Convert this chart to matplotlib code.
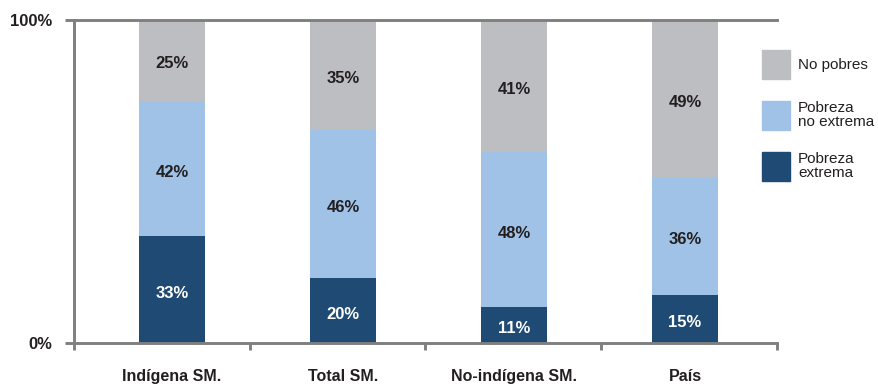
import matplotlib
matplotlib.use("Agg")
import matplotlib.pyplot as plt
from matplotlib.patches import Patch
from matplotlib.ticker import FixedLocator
import numpy as np

categories = ["Indígena SM.", "Total SM.", "No-indígena SM.", "País"]
pobreza_extrema = [33, 20, 11, 15]
pobreza_no_extrema = [42, 46, 48, 36]
no_pobres = [25, 35, 41, 49]
series_names = ["No pobres", "Pobreza\nno extrema", "Pobreza\nextrema"]

c_ext = "#1F4A73"
c_noext = "#9FC2E6"
c_nopob = "#BDBEC2"
axis_gray = "#7F7F7F"
text_dark = "#231F20"

plt.rcParams["font.family"] = ["Liberation Sans", "DejaVu Sans"]

fig = plt.figure(figsize=(8.79, 3.86), dpi=100)
ax = fig.add_axes([74 / 879, 43 / 386, 703 / 879, 323 / 386])

x = np.arange(len(categories))
w = 0.386
b1 = ax.bar(x, pobreza_extrema, w, color=c_ext, zorder=2)
bottom2 = np.array(pobreza_extrema)
b2 = ax.bar(x, pobreza_no_extrema, w, bottom=bottom2, color=c_noext, zorder=2)
bottom3 = bottom2 + np.array(pobreza_no_extrema)
b3 = ax.bar(x, no_pobres, w, bottom=bottom3, color=c_nopob, zorder=2)

def label(bars, vals, bottoms, color):
    for rect, v, b in zip(bars, vals, bottoms):
        top = min(b + v, 100)
        ax.annotate(f"{v}%", (rect.get_x() + rect.get_width() / 2, (b + top) / 2),
                    xytext=(0, -2.5), textcoords="offset points",
                    ha="center", va="center", fontsize=12, fontweight="bold",
                    color=color, zorder=3)

label(b1, pobreza_extrema, np.zeros(len(x)), "white")
label(b2, pobreza_no_extrema, bottom2, text_dark)
label(b3, no_pobres, bottom3, text_dark)

x0, x1 = -0.573, 3.538
ax.set_xlim(x0, x1)
ax.set_ylim(0, 100)

for side in ["left", "bottom", "top"]:
    ax.spines[side].set_color(axis_gray)
    ax.spines[side].set_linewidth(2.1)
ax.spines["right"].set_visible(False)

ax.set_yticks([0, 100])
ax.set_yticklabels(["0%", "100%"], fontsize=12, fontweight="bold", color=text_dark)
ax.tick_params(axis="y", length=6.5, width=2.1, color=axis_gray, direction="out", pad=9)

ax.set_xticks(x)
ax.set_xticklabels(categories, fontsize=11.5, fontweight="bold", color=text_dark)
ax.tick_params(axis="x", which="major", length=0, pad=18.5)
ax.xaxis.set_minor_locator(FixedLocator(np.linspace(x0, x1, len(categories) + 1)))
ax.tick_params(axis="x", which="minor", length=5, width=2.1, color=axis_gray, direction="out")

handles = [Patch(color=c_nopob), Patch(color=c_noext), Patch(color=c_ext)]
leg = fig.legend(handles, series_names, loc="upper left",
                 bbox_to_anchor=(756 / 879, 1 - 44 / 386), frameon=False,
                 fontsize=11, handlelength=1.83, handleheight=2.54,
                 handletextpad=0.52, labelspacing=1.43, borderaxespad=0)
for t in leg.get_texts():
    t.set_color(text_dark)
    t.set_linespacing(1.0)

fig.savefig("out.png", dpi=100)
